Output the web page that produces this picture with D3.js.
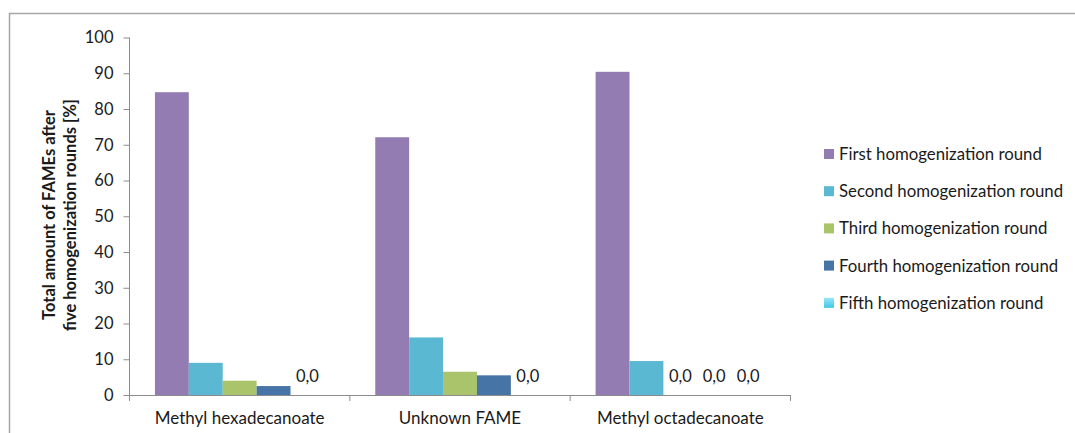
<!DOCTYPE html>
<html>
<head>
<meta charset="utf-8">
<script src="https://cdn.jsdelivr.net/npm/d3@7"></script>
<style>
  body { margin: 0; background: #fff; }
  text { font-family: Lato, "Open Sans", sans-serif; fill: #1a1a1a; }
</style>
</head>
<body>
<div id="chart"></div>
<script>
// Data
const categories = ["Methyl hexadecanoate", "Unknown FAME", "Methyl octadecanoate"];
const seriesNames = [
    "First homogenization round",
    "Second homogenization round",
    "Third homogenization round",
    "Fourth homogenization round",
    "Fifth homogenization round"
];
// values per series, one per category
const firstRound = [84.7, 72.1, 90.4];
const secondRound = [9.0, 16.1, 9.5];
const thirdRound = [4.0, 6.5, 0.0];
const fourthRound = [2.5, 5.5, 0.0];
const fifthRound = [0.0, 0.0, 0.0];
const yTicks = [0, 10, 20, 30, 40, 50, 60, 70, 80, 90, 100];

const seriesValues = [firstRound, secondRound, thirdRound, fourthRound, fifthRound];
const colors = ["#937cb2", "#5ab8d2", "#a9c46b", "#4674a6", "url(#fifthGrad)"];

const width = 1075, height = 433;

const svg = d3.select("#chart")
    .append("svg")
    .attr("width", width)
    .attr("height", height);

// gradient for the fifth series
let grad = svg.append("defs").append("linearGradient")
    .attr("id", "fifthGrad")
    .attr("x1", 0).attr("y1", 0).attr("x2", 0).attr("y2", 1);
grad.append("stop").attr("offset", "0%").attr("stop-color", "#9be6f7");
grad.append("stop").attr("offset", "100%").attr("stop-color", "#3cc6e6");

// outer frame (cropped)
svg.append("rect")
    .attr("x", 9.5)
    .attr("y", 13.5)
    .attr("width", 1200)
    .attr("height", 600)
    .attr("fill", "none")
    .attr("stroke", "#a6a6a6")
    .attr("stroke-width", 1.5);

// Scales
let x = d3.scaleBand()
    .domain(categories)
    .range([129.5, 790.5]);

let y = d3.scaleLinear()
    .domain([0, 100])
    .range([395, 37.5]);

let barW = x.bandwidth() / 6.5;
let offset = barW * 0.75;

// Y axis
let yAxis = svg.append("g")
    .attr("transform", "translate(129.5,0)")
    .call(d3.axisLeft(y).tickValues(yTicks).tickSize(6).tickPadding(10));
yAxis.select(".domain").attr("stroke", "#8c8c8c").attr("d", "M0," + y(100) + "V" + y(0));
yAxis.selectAll(".tick line").attr("stroke", "#8c8c8c");
yAxis.selectAll(".tick text")
    .style("font-family", "Lato, sans-serif")
    .style("font-size", "16.5px")
    .attr("fill", "#1a1a1a");

// X axis
let xAxisG = svg.append("g").attr("transform", "translate(0," + y(0) + ")");
xAxisG.append("line")
    .attr("x1", x.range()[0]).attr("x2", x.range()[1])
    .attr("y1", 0.5).attr("y2", 0.5)
    .attr("stroke", "#8c8c8c");
let xTickPos = categories.map(c => x(c)).concat([x.range()[1]]);
xAxisG.selectAll(".xtick")
    .data(xTickPos)
    .enter()
    .append("line")
    .attr("x1", d => d).attr("x2", d => d)
    .attr("y1", 0).attr("y2", 6)
    .attr("stroke", "#8c8c8c");
xAxisG.selectAll(".xlabel")
    .data(categories)
    .enter()
    .append("text")
    .attr("x", d => x(d) + x.bandwidth() / 2)
    .attr("y", 29)
    .attr("text-anchor", "middle")
    .style("font-size", "17px")
    .text(d => d);

// Bars
seriesValues.forEach(function (vals, si) {
    let g = svg.append("g");
    g.selectAll("rect")
        .data(vals)
        .enter()
        .append("rect")
        .attr("x", (d, i) => x(categories[i]) + offset + si * barW)
        .attr("y", d => y(d))
        .attr("width", barW)
        .attr("height", d => y(0) - y(d))
        .attr("fill", colors[si]);

    // labels for zero values
    g.selectAll("text")
        .data(vals.map((d, i) => ({v: d, i: i})).filter(d => d.v === 0))
        .enter()
        .append("text")
        .attr("x", d => x(categories[d.i]) + offset + si * barW + barW / 2)
        .attr("y", d => y(d.v) - 13)
        .attr("text-anchor", "middle")
        .style("font-size", "16.5px")
        .text(d => d3.format(".1f")(d.v).replace(".", ","));
});

// Y axis title
let yTitle = svg.append("text")
    .attr("transform", "translate(55,215) rotate(-90)")
    .attr("text-anchor", "middle")
    .style("font-size", "16.5px")
    .style("font-weight", "bold");
yTitle.append("tspan").attr("x", 0).attr("y", 0).text("Total  amount of FAMEs after");
yTitle.append("tspan").attr("x", 0).attr("y", 21).text("five homogenization rounds [%]");

// Legend
let legend = svg.append("g")
    .attr("transform", "translate(824,154)");
seriesNames.forEach(function (name, i) {
    let item = legend.append("g")
        .attr("transform", "translate(0," + i * 37.2 + ")");
    item.append("rect")
        .attr("x", 0)
        .attr("y", -5)
        .attr("width", 10)
        .attr("height", 10)
        .attr("fill", colors[i]);
    item.append("text")
        .attr("x", 15)
        .attr("y", 6)
        .style("font-size", "16.8px")
        .text(name);
});
</script>
</body>
</html>
